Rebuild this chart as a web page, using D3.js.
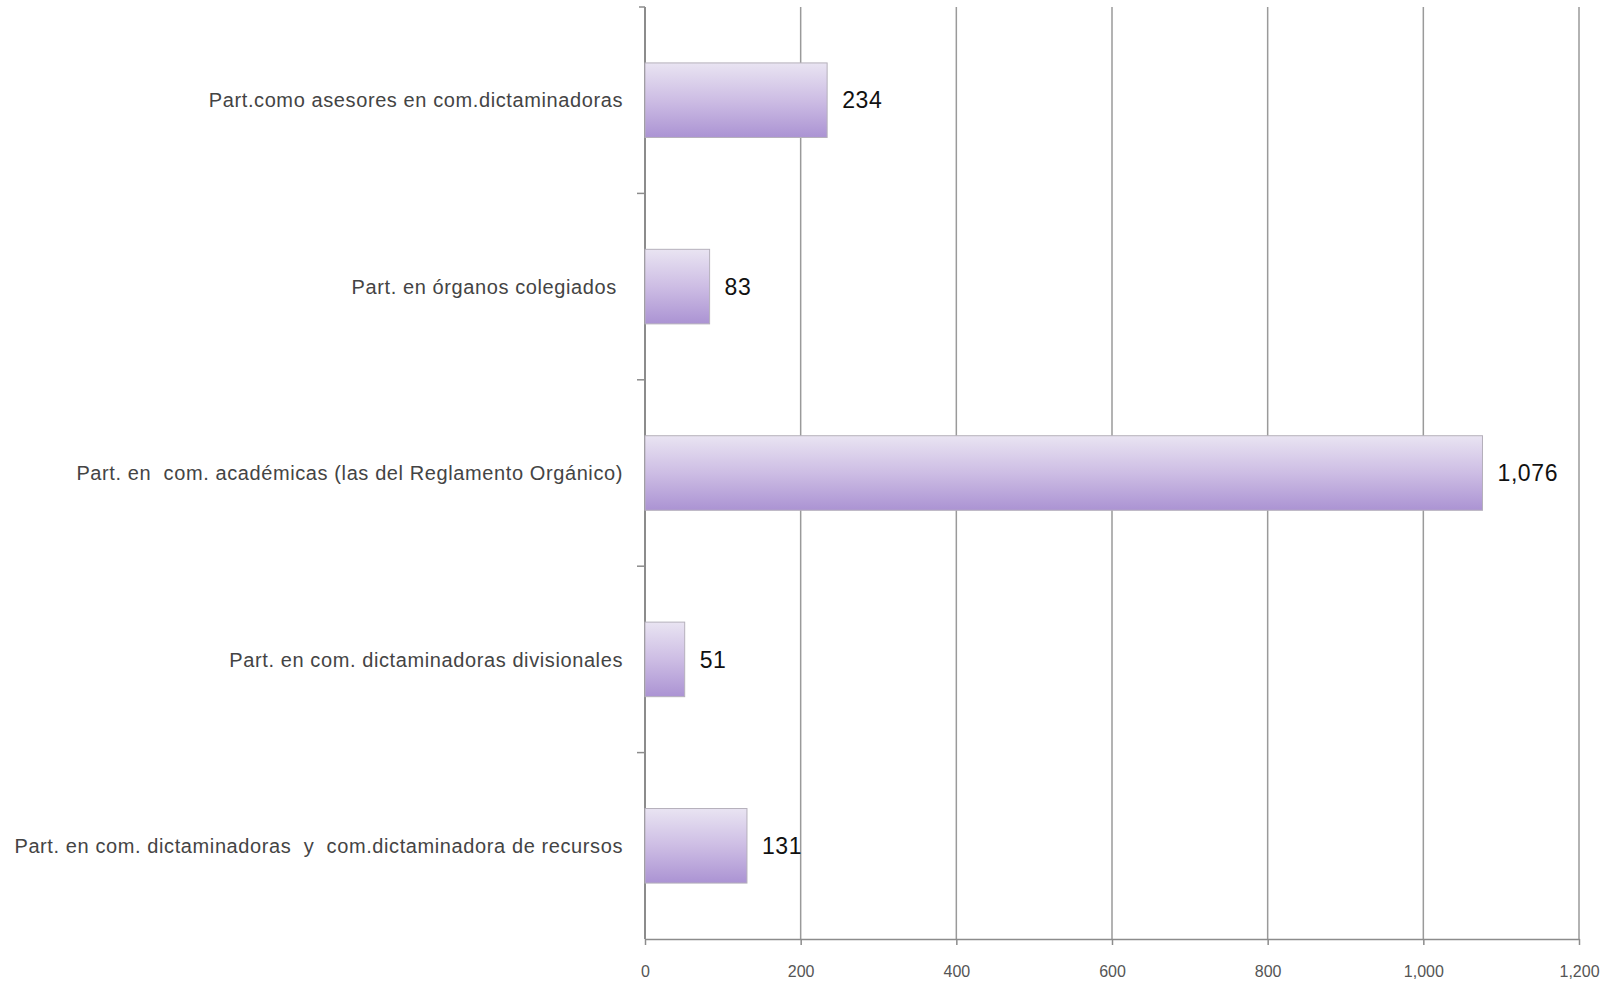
<!DOCTYPE html>
<html>
<head>
<meta charset="utf-8">
<script src="https://cdn.jsdelivr.net/npm/d3@7"></script>
<style>
  body { margin: 0; background: #fff; }
  text { font-family: "Liberation Sans", Arial, sans-serif; }
</style>
</head>
<body>
<script>
var categories = [
  "Part.como asesores en com.dictaminadoras",
  "Part. en órganos colegiados ",
  "Part. en  com. académicas (las del Reglamento Orgánico)",
  "Part. en com. dictaminadoras divisionales",
  "Part. en com. dictaminadoras  y  com.dictaminadora de recursos"
];
var values = [234, 83, 1076, 51, 131];
var xTicks = [0, 200, 400, 600, 800, 1000, 1200];

var margin = {top: 7, right: 42, bottom: 49, left: 645},
    width = 1621 - margin.left - margin.right,
    height = 988 - margin.top - margin.bottom;

var svg = d3.select('body').append('svg')
    .attr('width', 1621)
    .attr('height', 988);

var defs = svg.append('defs');
var grad = defs.append('linearGradient')
    .attr('id', 'barGrad')
    .attr('x1', 0).attr('y1', 0).attr('x2', 0).attr('y2', 1);
grad.append('stop').attr('offset', '0%').attr('stop-color', '#e9e4f2');
grad.append('stop').attr('offset', '50%').attr('stop-color', '#cdbde4');
grad.append('stop').attr('offset', '100%').attr('stop-color', '#ab93d3');

var g = svg.append('g')
    .attr('transform', 'translate(' + margin.left + ',' + margin.top + ')');

var x = d3.scaleLinear().domain([0, 1200]).range([0, width]);
var y = d3.scaleBand().domain(categories).range([0, height]).paddingInner(0.6).paddingOuter(0.3);

// vertical gridlines
g.append('g').attr('class', 'grid')
  .selectAll('line')
    .data(xTicks.slice(1))
  .enter().append('line')
    .attr('x1', function(d) { return x(d); })
    .attr('x2', function(d) { return x(d); })
    .attr('y1', 0)
    .attr('y2', height)
    .attr('stroke', '#9a9a9a')
    .attr('stroke-width', 1.5);

// bottom axis
var xAxis = g.append('g')
    .attr('transform', 'translate(0,' + height + ')')
    .call(d3.axisBottom(x).tickValues(xTicks).tickSize(6).tickSizeOuter(0)
      .tickFormat(d3.format(',')));
xAxis.select('.domain').attr('stroke', '#8c8c8c').attr('stroke-width', 1.5);
xAxis.selectAll('.tick line').attr('stroke', '#8c8c8c').attr('stroke-width', 1.5);
xAxis.selectAll('.tick text')
    .attr('y', 27)
    .attr('font-size', 16)
    .attr('fill', '#555');

// left axis line + ticks between categories
var bandStep = height / categories.length;
g.append('line')
    .attr('x1', 0).attr('x2', 0).attr('y1', 0).attr('y2', height)
    .attr('stroke', '#8c8c8c').attr('stroke-width', 2);
g.append('line')
    .attr('x1', -6).attr('x2', 0).attr('y1', 0).attr('y2', 0)
    .attr('stroke', '#8c8c8c').attr('stroke-width', 1.5);
g.selectAll('.ytick')
    .data(d3.range(1, categories.length))
  .enter().append('line')
    .attr('class', 'ytick')
    .attr('x1', -8).attr('x2', 0)
    .attr('y1', function(i) { return i * bandStep; })
    .attr('y2', function(i) { return i * bandStep; })
    .attr('stroke', '#8c8c8c').attr('stroke-width', 1.5);

// bars
g.selectAll('.bar')
    .data(values)
  .enter().append('rect')
    .attr('class', 'bar')
    .attr('x', 0)
    .attr('y', function(d, i) { return y(categories[i]); })
    .attr('width', function(d) { return x(d); })
    .attr('height', y.bandwidth())
    .attr('fill', 'url(#barGrad)')
    .attr('stroke', '#b5b0bb')
    .attr('stroke-width', 1);

// value labels
g.selectAll('.val')
    .data(values)
  .enter().append('text')
    .attr('class', 'val')
    .attr('x', function(d) { return x(d) + 15; })
    .attr('y', function(d, i) { return y(categories[i]) + y.bandwidth() / 2; })
    .attr('dy', '0.36em')
    .attr('font-size', 23)
    .attr('letter-spacing', 0.6)
    .attr('fill', '#111')
    .text(function(d) { return d3.format(',')(d); });

// category labels
g.selectAll('.cat')
    .data(categories)
  .enter().append('text')
    .attr('class', 'cat')
    .attr('x', -22)
    .attr('y', function(d) { return y(d) + y.bandwidth() / 2; })
    .attr('dy', '0.36em')
    .attr('text-anchor', 'end')
    .attr('font-size', 20)
    .attr('letter-spacing', 0.6)
    .attr('fill', '#444')
    .attr('xml:space', 'preserve')
    .style('white-space', 'pre')
    .text(function(d) { return d; });
</script>
</body>
</html>
